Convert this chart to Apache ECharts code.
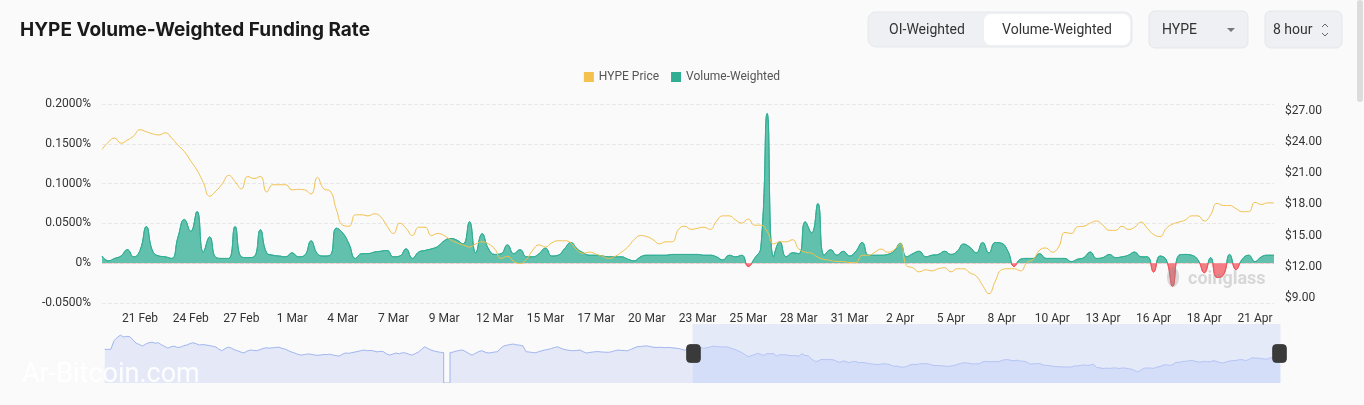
<!DOCTYPE html>
<html><head><meta charset="utf-8">
<script src="https://cdn.jsdelivr.net/npm/echarts/dist/echarts.min.js"></script>
<style>html,body{margin:0;padding:0;background:#fafafa;}#c{width:1364px;height:405px;}</style>
</head><body><div id="c"></div>
<script>
// ---- data ----
const startTime = Date.UTC(2025, 1, 19, 16); // first 8-hour bucket
const stepHours = 8;
const monthNames = ['Jan','Feb','Mar','Apr','May','Jun','Jul','Aug','Sep','Oct','Nov','Dec'];

const priceValues = [
23.3,24.0,24.4,23.9,24.2,24.6,25.2,25.0,24.8,24.7,
24.9,24.4,23.7,23.1,22.2,21.3,20.1,18.8,19.3,20.0,
20.8,20.2,19.5,20.7,20.5,20.7,19.2,19.9,19.9,19.9,
19.4,19.45,19.4,19.0,20.6,19.5,19.3,17.5,16.0,15.9,
17.0,17.0,16.9,17.1,16.8,15.9,15.2,16.2,15.7,15.0,
15.8,15.8,15.0,15.2,15.0,14.6,14.3,14.1,13.9,14.2,
14.4,14.2,13.7,12.8,13.0,12.5,12.3,12.7,13.6,14.1,
13.9,14.3,14.5,14.5,14.3,13.6,13.3,13.4,13.2,13.0,
12.8,13.0,13.4,13.9,14.6,15.0,14.9,14.6,14.2,14.4,
14.4,15.6,15.9,15.6,15.7,15.8,15.6,16.4,16.9,16.9,
16.5,16.2,16.6,16.0,16.0,15.4,14.2,14.4,14.4,14.6,
13.7,13.4,13.3,12.9,12.7,12.6,12.5,12.5,12.4,12.4,
13.1,13.1,13.4,13.7,13.4,13.6,14.2,12.1,11.9,11.5,
11.7,11.6,11.8,11.9,11.5,11.8,11.8,11.4,11.1,10.2,
9.4,10.6,11.7,11.8,11.8,11.6,12.4,12.7,13.6,13.8,
13.4,13.9,15.3,15.2,15.85,15.9,16.2,16.4,16.0,15.5,
15.5,15.9,15.6,15.8,16.3,15.7,15.1,14.9,15.7,16.1,
16.3,16.5,16.9,16.9,16.4,17.0,18.1,17.9,17.9,17.6,
17.3,17.3,18.2,18.0,18.15,18.15
];

const fundingValues = [
0.009,0.003,0.006,0.009,0.017,0.008,0.016,0.046,0.015,0.009,
0.008,0.006,0.033,0.055,0.040,0.065,0.014,0.033,0.007,0.006,
0.006,0.046,0.008,0.007,0.008,0.042,0.013,0.010,0.009,0.008,
0.013,0.008,0.010,0.028,0.012,0.009,0.010,0.044,0.038,0.024,
0.006,0.012,0.012,0.014,0.015,0.016,0.008,0.009,0.018,0.006,
0.014,0.016,0.018,0.021,0.028,0.031,0.029,0.024,0.052,0.013,
0.037,0.018,0.011,0.012,0.023,0.012,0.017,0.008,0.008,0.012,
0.019,0.009,0.010,0.018,0.026,0.018,0.013,0.010,0.010,0.009,
0.008,0.008,0.008,0.005,0.003,0.008,0.010,0.010,0.010,0.010,
0.011,0.011,0.011,0.011,0.011,0.010,0.010,0.008,0.004,0.010,
0.008,0.010,-0.004,0.006,0.020,0.188,0.008,0.027,0.008,0.013,
0.012,0.052,0.038,0.075,0.010,0.017,0.010,0.015,0.009,0.015,
0.026,0.010,0.010,0.010,0.011,0.015,0.025,0.008,0.012,0.015,
0.008,0.010,0.011,0.015,0.011,0.015,0.024,0.020,0.013,0.026,
0.013,0.026,0.025,0.015,-0.004,0.005,0.006,0.006,0.012,0.006,
0.006,0.006,0.006,0.002,0.005,0.007,0.014,0.006,0.007,0.011,
0.007,0.008,0.010,0.014,0.008,0.008,-0.011,0.009,0.004,-0.029,
0.010,0.011,0.010,0.004,-0.012,0.007,-0.018,-0.015,0.011,-0.008,
0.005,0.010,0.002,0.008,0.010,0.010
];

// earlier price history shown only in the zoom slider background
const priorPriceValues = [
23.2,23.2,23.3,28.5,30.5,32.0,30.8,31.2,31.0,29.0,
27.0,26.2,25.3,26.5,27.3,27.6,27.0,27.3,26.0,25.0,
24.0,24.8,25.2,24.4,24.6,25.5,25.9,26.8,27.3,26.6,
25.9,26.2,25.9,25.6,25.2,24.8,23.5,22.4,23.6,24.6,
24.0,23.0,22.4,21.6,21.0,22.2,22.8,22.6,22.4,23.0,
23.8,24.2,24.0,24.2,24.4,24.6,23.8,23.4,22.5,21.6,
21.0,20.2,19.7,20.0,20.4,20.3,19.9,19.6,19.7,20.1,
20.0,20.3,19.8,19.4,19.1,20.2,21.0,20.8,21.2,21.6,
22.0,22.5,22.8,22.4,22.6,22.2,21.7,22.0,21.8,20.5,
19.7,20.4,21.0,20.5,21.2,21.0,20.3,19.7,20.6,21.6,
23.2,24.8,23.8,22.8,22.2,21.8,21.4,21.2,null,21.2,
21.6,22.2,22.6,22.8,21.8,20.6,19.7,20.8,21.8,22.4,
21.6,21.0,21.2,21.6,21.8,24.0,25.3,25.8,26.2,26.5,
26.0,25.8,25.4,21.8,21.6,21.3,21.2,21.8,22.4,22.9,
23.2,23.8,24.4,24.8,23.9,23.2,22.8,22.5,22.4,22.6,
22.8,21.8,21.0,21.3,21.6,21.8,21.8,21.6,21.5,21.4,
21.8,22.4,22.8,22.6,22.5,22.4,23.2,24.0,24.8,25.0,
25.2,25.4,25.0,24.6,24.4,24.5,24.4,24.3,24.4,24.2,
24.0,23.8,23.3,22.8,23.0,23.2
];

const priceTickValues = [9, 12, 15, 18, 21, 24, 27];
const fundingAxis = { min: -0.05, max: 0.2, interval: 0.05 };
const priceAxis = { min: 8.5, max: 27.68 };
const positiveColor = '#2fae93';
const negativeColor = '#f0545d';

// category labels (8-hour buckets)
const categories = [];
for (let i = 0; i < priceValues.length; i++) {
  const d = new Date(startTime + i * stepHours * 3600 * 1000);
  categories.push(d.getUTCDate() + ' ' + monthNames[d.getUTCMonth()] + ' ' + String(d.getUTCHours()).padStart(2, '0') + ':00');
}
const historyValues = priorPriceValues.concat(priceValues);
const historyCategories = historyValues.map((v, i) => String(i));

const chart = echarts.init(document.getElementById('c'));
const labelFont = 'Roboto';

chart.setOption({
  backgroundColor: '#fafafa',
  animation: false,
  legend: {
    data: ['HYPE Price', 'Volume-Weighted'],
    top: 66, left: 'center',
    icon: 'rect', itemWidth: 10, itemHeight: 10, itemGap: 12,
    textStyle: { color: '#555', fontSize: 12, fontFamily: labelFont }
  },
  grid: [
    { left: 102, right: 90, top: 104, height: 199 },
    { left: 102, right: 86, top: 600, height: 50 }
  ],
  xAxis: [
    {
      type: 'category', data: categories, boundaryGap: false, gridIndex: 0,
      axisLine: { show: false }, axisTick: { show: false },
      axisLabel: {
        interval: (idx) => idx % 8 === 6,
        formatter: (v) => v.split(' ').slice(0, 2).join(' '),
        color: '#333', fontSize: 12, fontFamily: labelFont, margin: 10
      },
      splitLine: { show: false }
    },
    { type: 'category', data: historyCategories, gridIndex: 1, show: false, boundaryGap: false }
  ],
  yAxis: [
    {
      type: 'value', min: fundingAxis.min, max: fundingAxis.max, interval: fundingAxis.interval,
      axisLine: { show: false }, axisTick: { show: false },
      axisLabel: {
        margin: 11, color: '#333', fontSize: 12, fontFamily: labelFont,
        formatter: (v) => Math.abs(v) < 1e-9 ? '0%' : v.toFixed(4) + '%'
      },
      splitLine: { lineStyle: { color: '#e8e8e8', type: 'dashed' } }
    },
    {
      type: 'value', position: 'right', min: priceAxis.min, max: priceAxis.max,
      axisLine: { show: false }, axisTick: { show: false }, splitLine: { show: false },
      axisLabel: {
        customValues: priceTickValues,
        margin: 11, color: '#333', fontSize: 12, fontFamily: labelFont,
        formatter: (v) => '$' + v.toFixed(2)
      }
    },
    { type: 'value', gridIndex: 1, show: false, scale: true }
  ],
  dataZoom: [{
    type: 'slider', xAxisIndex: 1, start: 50, end: 100,
    left: 102, right: 86, top: 324, height: 59,
    backgroundColor: 'rgba(0,0,0,0)', borderColor: 'transparent',
    fillerColor: 'rgba(205,216,248,0.45)',
    dataBackground: {
      lineStyle: { color: '#a0b5ef', width: 1, opacity: 1 },
      areaStyle: { color: '#e5e9f7', opacity: 1 }
    },
    selectedDataBackground: {
      lineStyle: { color: '#a0b5ef', width: 1, opacity: 1 },
      areaStyle: { color: '#dbe3fa', opacity: 1 }
    },
    handleIcon: 'path://M3,0H10A3,3,0,0,1,13,3V14A3,3,0,0,1,10,17H3A3,3,0,0,1,0,14V3A3,3,0,0,1,3,0Z',
    handleSize: '30%',
    handleStyle: { color: '#3a3a3a', borderColor: '#3a3a3a' },
    moveHandleSize: 0, showDetail: false, brushSelect: false
  }],
  series: [
    {
      name: 'Volume-Weighted', type: 'line', xAxisIndex: 0, yAxisIndex: 0,
      data: fundingValues, smooth: true, symbol: 'none',
      lineStyle: { width: 1, color: positiveColor }, areaStyle: { opacity: 0.75, color: positiveColor },
      itemStyle: { color: positiveColor }, z: 2
    },
    {
      name: 'HYPE Price', type: 'line', xAxisIndex: 0, yAxisIndex: 1,
      data: priceValues, smooth: true, symbol: 'none',
      lineStyle: { width: 1, color: '#f2c14e' }, itemStyle: { color: '#f2c14e' }, z: 3
    },
    {
      name: 'history', type: 'line', xAxisIndex: 1, yAxisIndex: 2,
      data: historyValues, symbol: 'none', silent: true,
      lineStyle: { opacity: 0 }
    }
  ],
  graphic: [
    { type: 'text', x: 20, y: 30, style: { text: 'HYPE Volume-Weighted Funding Rate', font: 'bold 19px Inter', fill: '#1a1a1a', verticalAlign: 'middle' } },
    { type: 'rect', shape: { x: 868, y: 12, width: 264, height: 35, r: 8 }, style: { fill: '#eef0f3', stroke: '#e6e8ec' } },
    { type: 'rect', shape: { x: 984, y: 14, width: 146, height: 31, r: 7 }, style: { fill: '#ffffff' } },
    { type: 'text', x: 927, y: 30, style: { text: 'OI-Weighted', font: '14px Roboto', fill: '#333', align: 'center', verticalAlign: 'middle' } },
    { type: 'text', x: 1057, y: 30, style: { text: 'Volume-Weighted', font: '14px Roboto', fill: '#333', align: 'center', verticalAlign: 'middle' } },
    { type: 'rect', shape: { x: 1149, y: 11, width: 99, height: 37, r: 6 }, style: { fill: '#eef0f3', stroke: '#e3e6ea' } },
    { type: 'text', x: 1162, y: 30, style: { text: 'HYPE', font: '14px Roboto', fill: '#333', verticalAlign: 'middle' } },
    { type: 'polygon', shape: { points: [[1227, 28], [1235, 28], [1231, 32]] }, style: { fill: '#777' } },
    { type: 'rect', shape: { x: 1265, y: 11, width: 77, height: 37, r: 6 }, style: { fill: '#eef0f3', stroke: '#e3e6ea' } },
    { type: 'text', x: 1273, y: 30, style: { text: '8 hour', font: '14px Roboto', fill: '#333', verticalAlign: 'middle' } },
    { type: 'polyline', shape: { points: [[1322, 27], [1325, 24], [1328, 27]] }, style: { stroke: '#666', lineWidth: 1, fill: null } },
    { type: 'polyline', shape: { points: [[1322, 33], [1325, 36], [1328, 33]] }, style: { stroke: '#666', lineWidth: 1, fill: null } },
    { type: 'rect', shape: { x: 1357, y: 0, width: 6, height: 102, r: 3 }, style: { fill: '#dcdcdc' } },
    { type: 'ellipse', shape: { cx: 1173, cy: 277, rx: 6, ry: 10 }, style: { fill: 'rgba(140,140,140,0.3)' }, z: 50 },
    { type: 'text', x: 1188, y: 279, z: 50, style: { text: 'coinglass', font: 'bold 18px Roboto', fill: 'rgba(150,150,150,0.35)', verticalAlign: 'middle' } },
    { type: 'text', x: 22, y: 375, z: 50, style: { text: 'Ar-Bitcoin.com', font: '27px Roboto', fill: 'rgba(255,255,255,0.9)', verticalAlign: 'middle' } }
  ]
});

// split colour at the zero line, positioned through the axis scale
const yTop = chart.convertToPixel({ yAxisIndex: 0 }, fundingAxis.max);
const yBottom = chart.convertToPixel({ yAxisIndex: 0 }, fundingAxis.min);
const yZero = chart.convertToPixel({ yAxisIndex: 0 }, 0);
const cut = (yZero - yTop) / (yBottom - yTop);
const makeGrad = () => new echarts.graphic.LinearGradient(0, yTop, 0, yBottom, [
  { offset: 0, color: positiveColor }, { offset: cut, color: positiveColor },
  { offset: cut, color: negativeColor }, { offset: 1, color: negativeColor }
], true);
chart.setOption({
  series: [{ lineStyle: { color: makeGrad() }, areaStyle: { color: makeGrad() } }]
});
</script>
</body></html>
